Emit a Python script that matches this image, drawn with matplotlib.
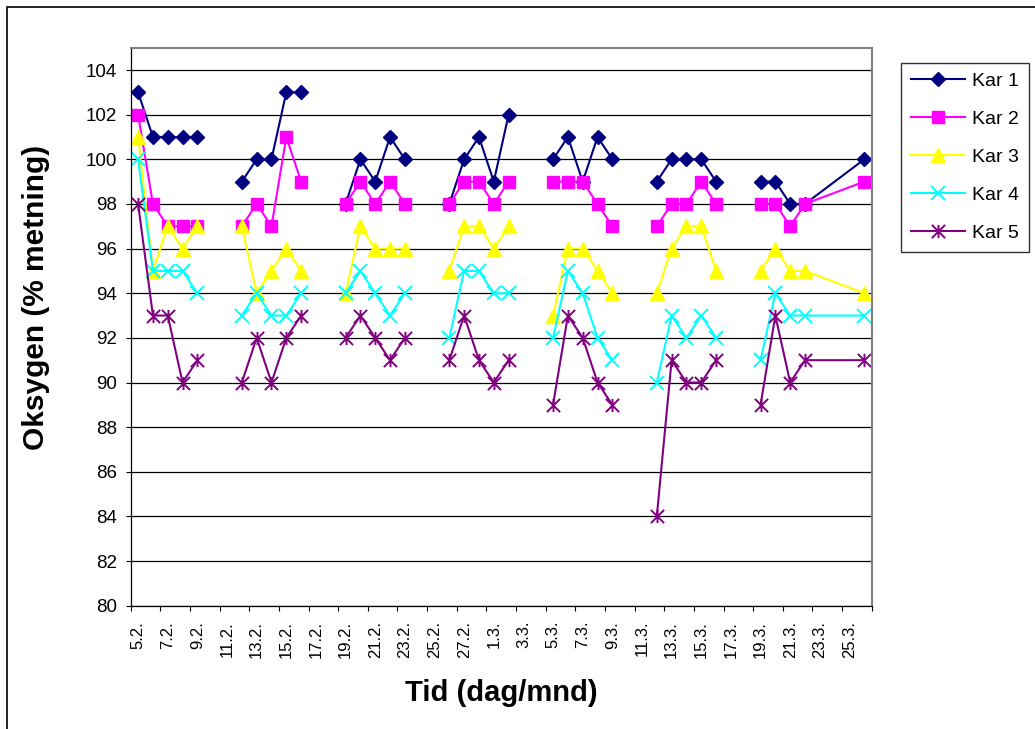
import numpy as np
import pandas as pd
import matplotlib
matplotlib.use("Agg")
import matplotlib.pyplot as plt
from matplotlib.path import Path
from matplotlib.patches import Rectangle

plt.rcParams['font.family'] = ['Liberation Sans', 'DejaVu Sans']

nan = np.nan
# measurement dates (day.month); 23.3.-25.3. not measured
datoer = ['5.2', '6.2', '7.2', '8.2', '9.2', '10.2', '11.2', '12.2', '13.2', '14.2',
          '15.2', '16.2', '17.2', '18.2', '19.2', '20.2', '21.2', '22.2', '23.2', '24.2',
          '25.2', '26.2', '27.2', '28.2', '1.3', '2.3', '3.3', '4.3', '5.3', '6.3',
          '7.3', '8.3', '9.3', '10.3', '11.3', '12.3', '13.3', '14.3', '15.3', '16.3',
          '17.3', '18.3', '19.3', '20.3', '21.3', '22.3', '26.3']

kar1 = [103, 101, 101, 101, 101, nan, nan, 99, 100, 100, 103, 103, nan, nan, 98, 100, 99, 101, 100,
        nan, nan, 98, 100, 101, 99, 102, nan, nan, 100, 101, 99, 101, 100, nan, nan, 99, 100, 100,
        100, 99, nan, nan, 99, 99, 98, 98, 100]
kar2 = [102, 98, 97, 97, 97, nan, nan, 97, 98, 97, 101, 99, nan, nan, 98, 99, 98, 99, 98,
        nan, nan, 98, 99, 99, 98, 99, nan, nan, 99, 99, 99, 98, 97, nan, nan, 97, 98, 98,
        99, 98, nan, nan, 98, 98, 97, 98, 99]
kar3 = [101, 95, 97, 96, 97, nan, nan, 97, 94, 95, 96, 95, nan, nan, 94, 97, 96, 96, 96,
        nan, nan, 95, 97, 97, 96, 97, nan, nan, 93, 96, 96, 95, 94, nan, nan, 94, 96, 97,
        97, 95, nan, nan, 95, 96, 95, 95, 94]
kar4 = [100, 95, 95, 95, 94, nan, nan, 93, 94, 93, 93, 94, nan, nan, 94, 95, 94, 93, 94,
        nan, nan, 92, 95, 95, 94, 94, nan, nan, 92, 95, 94, 92, 91, nan, nan, 90, 93, 92,
        93, 92, nan, nan, 91, 94, 93, 93, 93]
kar5 = [98, 93, 93, 90, 91, nan, nan, 90, 92, 90, 92, 93, nan, nan, 92, 93, 92, 91, 92,
        nan, nan, 91, 93, 91, 90, 91, nan, nan, 89, 93, 92, 90, 89, nan, nan, 84, 91, 90,
        90, 91, nan, nan, 89, 93, 90, 91, 91]

serie_navn = ['Kar 1', 'Kar 2', 'Kar 3', 'Kar 4', 'Kar 5']

# convert dates to day numbers
start = pd.Timestamp('2006-02-05')
dager = np.array([(pd.to_datetime(d + '.2006', format='%d.%m.%Y') - start).days for d in datoer])

# tick labels every 2nd day
tick_dager = np.arange(0, 49, 2)
tick_labels = [(start + pd.Timedelta(days=int(d))).strftime('%-d.%-m.') for d in tick_dager]

star_path = Path([(0, -1), (0, 1), (-1, -1), (1, 1), (-1, 1), (1, -1)],
                 [Path.MOVETO, Path.LINETO, Path.MOVETO, Path.LINETO, Path.MOVETO, Path.LINETO])

styles = [
    dict(color='#000080', marker='D', ms=7.2, mec='#000080', mfc='#000080'),
    dict(color='#FF00FF', marker='s', ms=8.2, mec='#FF00FF', mfc='#FF00FF'),
    dict(color='#FFFF00', marker='^', ms=9.5, mec='#FFFF00', mfc='#FFFF00'),
    dict(color='#00FFFF', marker='x', ms=9.5, mew=1.4, mec='#00FFFF'),
    dict(color='#800080', marker=star_path, ms=9.5, mew=1.4, mec='#800080'),
]

W, H = 1035, 729
fig = plt.figure(figsize=(W / 100, H / 100), dpi=100)
ax_l, ax_r, ax_t, ax_b = 130.7, 871.7, 47.7, 605.7
ax = fig.add_axes([ax_l / W, 1 - ax_b / H, (ax_r - ax_l) / W, (ax_b - ax_t) / H])

handles = []
for vals, name, st in zip([kar1, kar2, kar3, kar4, kar5], serie_navn, styles):
    h, = ax.plot(dager, vals, lw=1.5, label=name, **st)
    handles.append(h)

ax.set_xlim(-0.5, 49.5)
ax.set_ylim(80, 105)
ax.set_yticks(np.arange(80, 105, 2))
ax.set_yticklabels([str(v) for v in range(80, 105, 2)], fontsize=13.5)
ax.yaxis.grid(True, color='black', lw=0.9)
ax.set_axisbelow(True)
ax.tick_params(axis='y', direction='out', length=3.6, width=0.8, pad=6)

ax.set_xticks(np.arange(-0.5, 50, 2))
ax.set_xticklabels([])
ax.tick_params(axis='x', which='major', direction='out', length=3.6, width=0.8)
ax.set_xticks(tick_dager, minor=True)
ax.set_xticklabels(tick_labels, minor=True, rotation=90, fontsize=12)
ax.tick_params(axis='x', which='minor', length=0, pad=11)

for s in ['left', 'bottom']:
    ax.spines[s].set_color('black')
    ax.spines[s].set_linewidth(0.9)
for s in ['top', 'right']:
    ax.spines[s].set_color('#808080')
    ax.spines[s].set_linewidth(1.5)

ax.set_ylabel('Oksygen (% metning)', fontsize=21.5, fontweight='bold', va='center')
ax.yaxis.set_label_coords((36 - ax_l) / (ax_r - ax_l), (ax_b - 297) / (ax_b - ax_t))
ax.set_xlabel('Tid (dag/mnd)', fontsize=21, fontweight='bold', va='center')
ax.xaxis.set_label_coords(0.5, (ax_b - 693) / (ax_b - ax_t))

leg = fig.legend(handles, serie_navn, loc='upper left',
                 bbox_to_anchor=(901 / W, 1 - 62.7 / H), fontsize=14, numpoints=1,
                 frameon=True, fancybox=False, edgecolor='black', borderpad=0.5,
                 handlelength=2.8, handletextpad=0.35, labelspacing=1.05, borderaxespad=0)
leg.get_frame().set_linewidth(1.0)

fig.add_artist(Rectangle((7 / W, -0.05), 1.2, 1 - 7 / H + 0.05, fill=False,
                         edgecolor='black', lw=1.2, transform=fig.transFigure))

fig.savefig('out.png', dpi=100, facecolor='white')
